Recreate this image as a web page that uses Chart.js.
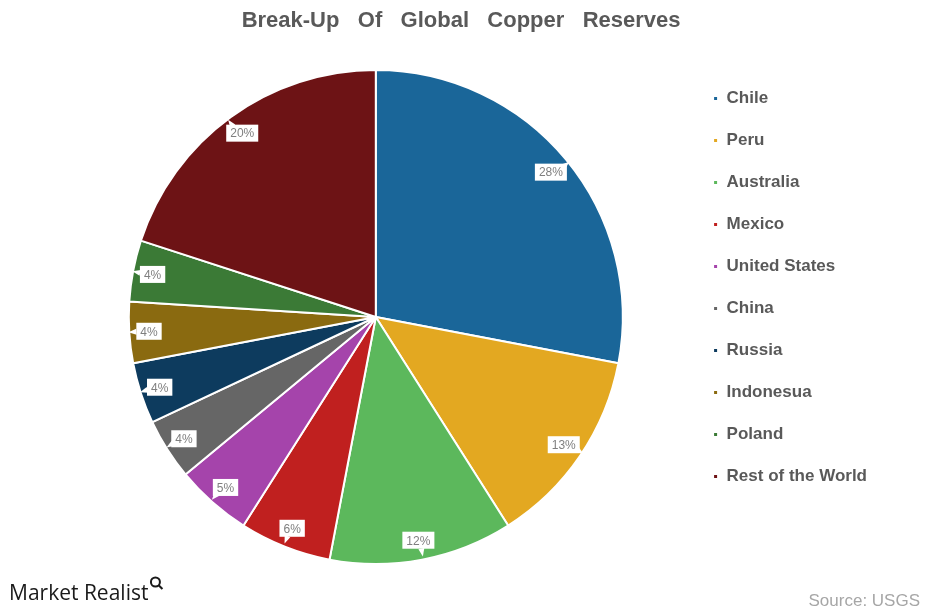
<!DOCTYPE html>
<html>
<head>
<meta charset="utf-8">
<title>Break-Up Of Global Copper Reserves</title>
<script src="https://cdn.jsdelivr.net/npm/chart.js@4/dist/chart.umd.min.js"></script>
<style>
  html, body { margin: 0; padding: 0; background: #fff; }
  #wrap { width: 926px; height: 610px; position: relative; }
</style>
</head>
<body>
<div id="wrap"><canvas id="chart"></canvas></div>
<script>
// datos del gráfico
const countries = ['Chile', 'Peru', 'Australia', 'Mexico', 'United States', 'China', 'Russia', 'Indonesua', 'Poland', 'Rest of the World'];
const shares = [28, 13, 12, 6, 5, 4, 4, 4, 4, 20];
const sliceColors = ['#1a6699', '#e3a821', '#5cb85c', '#c0201f', '#a544ab', '#666666', '#0d3b5e', '#8a6a10', '#3b7a36', '#6d1315'];

// etiquetas con recuadro blanco sobre cada porción
const sliceLabels = {
  id: 'sliceLabels',
  afterDatasetsDraw(chart) {
    const ctx = chart.ctx;
    const meta = chart.getDatasetMeta(0);
    ctx.save();
    ctx.font = '12px "Liberation Sans", Arial, sans-serif';
    ctx.textAlign = 'center';
    ctx.textBaseline = 'middle';
    meta.data.forEach((arc, i) => {
      const { x, y, startAngle, endAngle, outerRadius } = arc.getProps(['x', 'y', 'startAngle', 'endAngle', 'outerRadius'], true);
      const mid = (startAngle + endAngle) / 2;
      const dx = Math.cos(mid), dy = Math.sin(mid);
      const cx = x + dx * outerRadius * 0.92;
      const cy = y + dy * outerRadius * 0.92;
      const text = shares[i] + '%';
      const w = ctx.measureText(text).width + 8;
      const h = 17;
      // puntero hacia el borde
      const tipX = cx + dx * (w / 2 + 8);
      const tipY = cy + dy * (h / 2 + 8);
      ctx.fillStyle = '#ffffff';
      ctx.beginPath();
      ctx.moveTo(cx + dx * w / 2 - dy * 3, cy + dy * h / 2 + dx * 3);
      ctx.lineTo(tipX, tipY);
      ctx.lineTo(cx + dx * w / 2 + dy * 3, cy + dy * h / 2 - dx * 3);
      ctx.closePath();
      ctx.fill();
      ctx.fillRect(cx - w / 2, cy - h / 2, w, h);
      ctx.fillStyle = '#7f7f7f';
      ctx.fillText(text, cx, cy + 1);
    });
    ctx.restore();
  }
};

// logo y fuente al pie
const footer = {
  id: 'footer',
  afterDraw(chart) {
    const ctx = chart.ctx;
    ctx.save();
    ctx.textBaseline = 'alphabetic';
    ctx.textAlign = 'left';
    ctx.fillStyle = '#1a1a1a';
    ctx.font = '21px "Open Sans", "Liberation Sans", Arial, sans-serif';
    ctx.fillText('Market Realist', 9, 600);
    const lw = ctx.measureText('Market Realist').width;
    // lupa pequeña
    ctx.strokeStyle = '#1a1a1a';
    ctx.lineWidth = 2;
    ctx.beginPath();
    ctx.arc(9 + lw + 7, 582, 4.5, 0, Math.PI * 2);
    ctx.stroke();
    ctx.beginPath();
    ctx.moveTo(9 + lw + 10, 585);
    ctx.lineTo(9 + lw + 14, 589);
    ctx.stroke();
    ctx.textAlign = 'right';
    ctx.fillStyle = '#a6a6a6';
    ctx.font = '17px "Liberation Sans", Arial, sans-serif';
    ctx.fillText('Source: USGS', 920, 606);
    ctx.restore();
  }
};

new Chart(document.getElementById('chart'), {
  type: 'pie',
  data: {
    labels: countries,
    datasets: [{
      data: shares,
      backgroundColor: sliceColors,
      borderColor: '#ffffff',
      borderWidth: 2
    }]
  },
  options: {
    responsive: true,
    maintainAspectRatio: false,
    animation: false,
    layout: { padding: { left: 63.5, right: 49, top: 0, bottom: 45 } },
    plugins: {
      title: {
        display: true,
        text: 'Break-Up   Of   Global   Copper   Reserves   ',
        color: '#595959',
        font: { family: '"Liberation Sans", Arial, sans-serif', size: 22, weight: 'bold' },
        padding: { top: 8, bottom: 34.6 }
      },
      legend: {
        position: 'right',
        align: 'start',
        title: {
          display: true,
          text: ' ',
          font: { size: 10 },
          padding: 26.5
        },
        labels: {
          color: '#595959',
          boxWidth: 5,
          boxHeight: 5,
          padding: 25,
          font: { family: '"Liberation Sans", Arial, sans-serif', size: 17, weight: 'bold' }
        }
      },
      tooltip: { enabled: false }
    }
  },
  plugins: [sliceLabels, footer]
});
</script>
</body>
</html>
